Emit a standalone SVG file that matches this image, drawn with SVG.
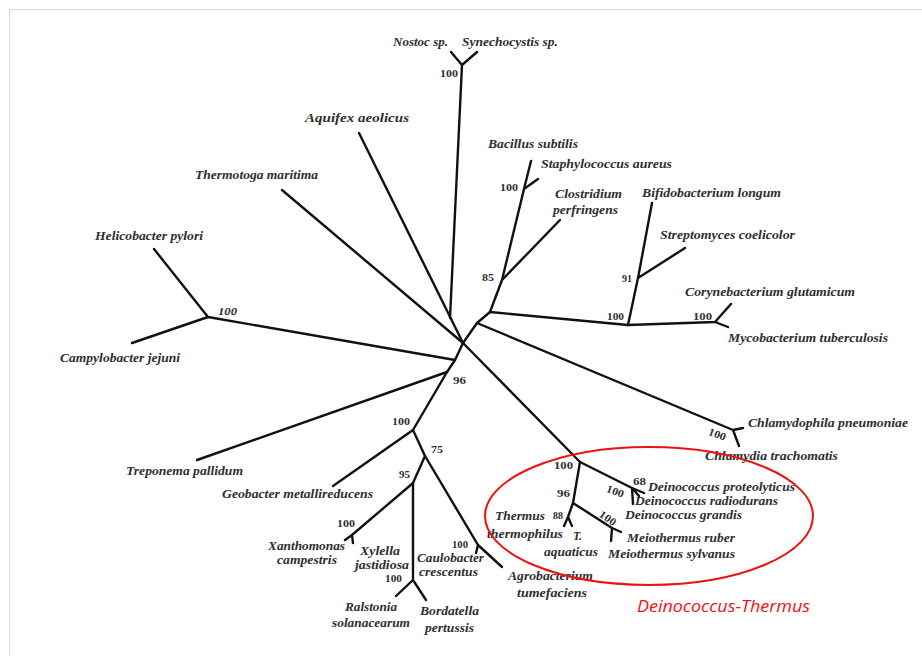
<svg xmlns="http://www.w3.org/2000/svg" width="922" height="656" viewBox="0 0 922 656">
<style>
.br{stroke:#111;stroke-width:2.4;fill:none;stroke-linecap:round;stroke-linejoin:round}
.sp{font-family:"Liberation Serif","Times New Roman",serif;font-style:italic;font-weight:bold;font-size:13px;fill:#2e2e2e}
.sm{font-size:12px}
.xs{font-size:11.5px}
.bs{font-family:"Liberation Serif","Times New Roman",serif;font-weight:bold;font-size:11px;fill:#2e2e2e}
.red{font-family:"Open Sans","Liberation Sans",sans-serif;font-style:italic;font-size:16px;fill:#ee1111}
</style>
<rect x="0" y="0" width="922" height="656" fill="#fff"/>
<path d="M9.5 660 V9.5 H930" fill="none" stroke="#d8d8d8" stroke-width="1"/>
<g id="connectors">
<path class="br" d="M451 52 L462 65 L477 52 M462 65 L450 318"/>
<path class="br" d="M359 133 L463 343"/>
<path class="br" d="M282 190 L463 343"/>
<path class="br" d="M154 249 L208 317 L132 343 M208 317 L455 360"/>
<path class="br" d="M463 343 L455 360 L447 372 L413 430"/>
<path class="br" d="M197 460 L447 372"/>
<path class="br" d="M413 430 L333 486 M413 430 L425 456"/>
<path class="br" d="M425 456 L413 483 M425 456 L478 545"/>
<path class="br" d="M413 483 L352 535 M352 535 L345 540 M352 535 L353 543"/>
<path class="br" d="M413 483 L413 580 L396 596 M413 580 L426 600"/>
<path class="br" d="M478 545 L502 567 M478 545 L476 553"/>
<path class="br" d="M463 343 L580 462 L632 488 L644 493 M632 488 L639 496 M632 488 L633 504"/>
<path class="br" d="M580 462 L573 503 L568 517 L564 526 M568 517 L572 526"/>
<path class="br" d="M573 503 L612 528 L621 532 M612 528 L611 541"/>
<path class="br" d="M463 343 L477 323 L490 312"/>
<path class="br" d="M477 323 L733 430 L743 428 M733 430 L739 446"/>
<path class="br" d="M490 312 L628 325 L715 322 L731 304 M715 322 L728 327"/>
<path class="br" d="M628 325 L638 278 L652 203 M638 278 L685 248"/>
<path class="br" d="M490 312 L502 280 L524 189 L531 161 M524 189 L538 179 M502 280 L560 220"/>
</g>
<g id="nostoc"><text class="sp" x="393" y="46" textLength="55" lengthAdjust="spacingAndGlyphs">Nostoc sp.</text></g>
<g id="synechocystis"><text class="sp" x="462" y="46" textLength="96" lengthAdjust="spacingAndGlyphs">Synechocystis sp.</text></g>
<g id="bs-cyano"><text class="bs" x="440" y="77" textLength="18" lengthAdjust="spacingAndGlyphs">100</text></g>
<g id="aquifex"><text class="sp" x="305" y="122" textLength="104" lengthAdjust="spacingAndGlyphs">Aquifex aeolicus</text></g>
<g id="thermotoga"><text class="sp" x="195" y="179" textLength="123" lengthAdjust="spacingAndGlyphs">Thermotoga maritima</text></g>
<g id="helicobacter"><text class="sp" x="95" y="240" textLength="108" lengthAdjust="spacingAndGlyphs">Helicobacter pylori</text></g>
<g id="campylobacter"><text class="sp" x="60" y="362" textLength="120" lengthAdjust="spacingAndGlyphs">Campylobacter jejuni</text></g>
<g id="bs-helico"><text class="bs" x="218" y="315" textLength="19" lengthAdjust="spacingAndGlyphs" font-style="italic">100</text></g>
<g id="treponema"><text class="sp" x="126" y="475" textLength="117" lengthAdjust="spacingAndGlyphs">Treponema pallidum</text></g>
<g id="geobacter"><text class="sp" x="222" y="498" textLength="151" lengthAdjust="spacingAndGlyphs">Geobacter metallireducens</text></g>
<g id="bs-center"><text class="bs" x="453" y="384" textLength="13" lengthAdjust="spacingAndGlyphs">96</text></g>
<g id="bs-proteo"><text class="bs" x="392" y="425" textLength="18" lengthAdjust="spacingAndGlyphs">100</text></g>
<g id="bs-75"><text class="bs" x="431" y="453" textLength="12" lengthAdjust="spacingAndGlyphs">75</text></g>
<g id="bs-95"><text class="bs" x="399" y="478" textLength="11" lengthAdjust="spacingAndGlyphs">95</text></g>
<g id="bs-xantho"><text class="bs" x="337" y="527" textLength="18" lengthAdjust="spacingAndGlyphs">100</text></g>
<g id="xanthomonas"><text class="sp sm" x="268" y="550" textLength="77" lengthAdjust="spacingAndGlyphs">Xanthomonas</text><text class="sp sm" x="277" y="564" textLength="60" lengthAdjust="spacingAndGlyphs">campestris</text></g>
<g id="xylella"><text class="sp sm" x="360" y="555" textLength="40" lengthAdjust="spacingAndGlyphs">Xylella</text><text class="sp sm" x="355" y="569" textLength="54" lengthAdjust="spacingAndGlyphs">jastidiosa</text></g>
<g id="caulobacter"><text class="sp sm" x="417" y="562" textLength="67" lengthAdjust="spacingAndGlyphs">Caulobacter</text><text class="sp sm" x="419" y="576" textLength="59" lengthAdjust="spacingAndGlyphs">crescentus</text></g>
<g id="bs-caulo"><text class="bs" x="452" y="548" textLength="16" lengthAdjust="spacingAndGlyphs">100</text></g>
<g id="bs-ralstonia"><text class="bs" x="385" y="582" textLength="17" lengthAdjust="spacingAndGlyphs">100</text></g>
<g id="ralstonia"><text class="sp" x="345" y="611" textLength="52" lengthAdjust="spacingAndGlyphs">Ralstonia</text><text class="sp" x="332" y="627" textLength="78" lengthAdjust="spacingAndGlyphs">solanacearum</text></g>
<g id="bordatella"><text class="sp" x="420" y="615" textLength="59" lengthAdjust="spacingAndGlyphs">Bordatella</text><text class="sp" x="425" y="632" textLength="49" lengthAdjust="spacingAndGlyphs">pertussis</text></g>
<g id="agrobacterium"><text class="sp" x="508" y="580" textLength="85" lengthAdjust="spacingAndGlyphs">Agrobacterium</text><text class="sp" x="517" y="597" textLength="70" lengthAdjust="spacingAndGlyphs">tumefaciens</text></g>
<g id="thermus"><text class="sp" x="495" y="520" textLength="50" lengthAdjust="spacingAndGlyphs">Thermus</text><text class="sp" x="487" y="538" textLength="76" lengthAdjust="spacingAndGlyphs">thermophilus</text></g>
<g id="aquaticus"><text class="sp" x="573" y="540" textLength="9" lengthAdjust="spacingAndGlyphs">T.</text><text class="sp" x="544" y="556" textLength="54" lengthAdjust="spacingAndGlyphs">aquaticus</text></g>
<g id="bs-88"><text class="bs" x="553" y="519" textLength="10" lengthAdjust="spacingAndGlyphs">88</text></g>
<g id="bs-96"><text class="bs" x="557" y="497" textLength="13" lengthAdjust="spacingAndGlyphs">96</text></g>
<g id="bs-dt"><text class="bs" x="554" y="469" textLength="19" lengthAdjust="spacingAndGlyphs">100</text></g>
<g id="bs-deino"><text class="bs" x="606" y="495" textLength="18" lengthAdjust="spacingAndGlyphs" transform="rotate(20 615 492)">100</text></g>
<g id="bs-68"><text class="bs" x="633" y="485" textLength="13" lengthAdjust="spacingAndGlyphs">68</text></g>
<g id="bs-meio"><text class="bs" x="599" y="522" textLength="18" lengthAdjust="spacingAndGlyphs" transform="rotate(35 608 518)">100</text></g>
<g id="d-proteolyticus"><text class="sp xs" x="648" y="491" textLength="147" lengthAdjust="spacingAndGlyphs">Deinococcus proteolyticus</text></g>
<g id="d-radiodurans"><text class="sp xs" x="635" y="505" textLength="143" lengthAdjust="spacingAndGlyphs">Deinococcus radiodurans</text></g>
<g id="d-grandis"><text class="sp xs" x="625" y="519" textLength="117" lengthAdjust="spacingAndGlyphs">Deinococcus grandis</text></g>
<g id="m-ruber"><text class="sp" x="627" y="542" textLength="108" lengthAdjust="spacingAndGlyphs">Meiothermus ruber</text></g>
<g id="m-sylvanus"><text class="sp" x="608" y="558" textLength="127" lengthAdjust="spacingAndGlyphs">Meiothermus sylvanus</text></g>
<g id="chlamydophila"><text class="sp" x="748" y="427" textLength="160" lengthAdjust="spacingAndGlyphs">Chlamydophila pneumoniae</text></g>
<g id="bs-chlamy"><text class="bs" x="708" y="438" textLength="18" lengthAdjust="spacingAndGlyphs" transform="rotate(20 717 435)">100</text></g>
<g id="chlamydia"><text class="sp" x="705" y="460" textLength="133" lengthAdjust="spacingAndGlyphs">Chlamydia trachomatis</text></g>
<g id="mycobacterium"><text class="sp" x="728" y="342" textLength="160" lengthAdjust="spacingAndGlyphs">Mycobacterium tuberculosis</text></g>
<g id="corynebacterium"><text class="sp" x="685" y="296" textLength="170" lengthAdjust="spacingAndGlyphs">Corynebacterium glutamicum</text></g>
<g id="bs-coryne"><text class="bs" x="693" y="320" textLength="19" lengthAdjust="spacingAndGlyphs">100</text></g>
<g id="bs-actino"><text class="bs" x="607" y="320" textLength="17" lengthAdjust="spacingAndGlyphs">100</text></g>
<g id="bs-91"><text class="bs" x="622" y="282" textLength="10" lengthAdjust="spacingAndGlyphs">91</text></g>
<g id="streptomyces"><text class="sp" x="660" y="239" textLength="135" lengthAdjust="spacingAndGlyphs">Streptomyces coelicolor</text></g>
<g id="bifidobacterium"><text class="sp" x="642" y="197" textLength="139" lengthAdjust="spacingAndGlyphs">Bifidobacterium longum</text></g>
<g id="clostridium"><text class="sp" x="555" y="198" textLength="67" lengthAdjust="spacingAndGlyphs">Clostridium</text><text class="sp" x="553" y="214" textLength="65" lengthAdjust="spacingAndGlyphs">perfringens</text></g>
<g id="staphylococcus"><text class="sp" x="541" y="168" textLength="131" lengthAdjust="spacingAndGlyphs">Staphylococcus aureus</text></g>
<g id="bacillus"><text class="sp" x="488" y="148" textLength="90" lengthAdjust="spacingAndGlyphs">Bacillus subtilis</text></g>
<g id="bs-bacillus"><text class="bs" x="500" y="191" textLength="18" lengthAdjust="spacingAndGlyphs">100</text></g>
<g id="bs-85"><text class="bs" x="482" y="281" textLength="12" lengthAdjust="spacingAndGlyphs">85</text></g>
<g id="deinococcus-thermus">
<ellipse cx="649" cy="516" rx="164" ry="69" fill="none" stroke="#ee1111" stroke-width="2"/>
<text class="red" x="637" y="612" textLength="173" lengthAdjust="spacingAndGlyphs">Deinococcus-Thermus</text>
</g>
</svg>
